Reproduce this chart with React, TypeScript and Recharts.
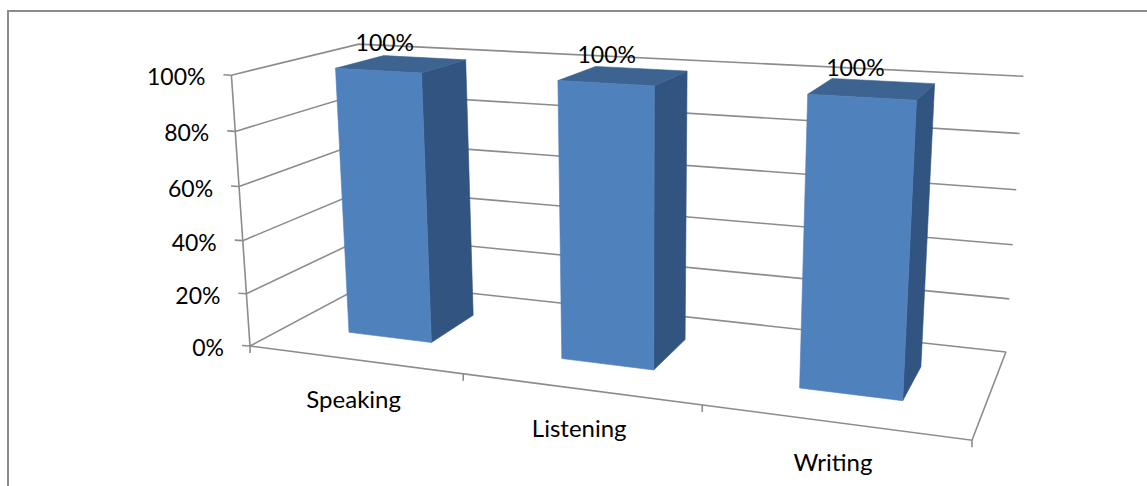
import { BarChart, Bar, XAxis, YAxis, CartesianGrid, LabelList, Customized } from 'recharts';

const categories = ['Speaking', 'Listening', 'Writing'];
const seriesValues = [100, 100, 100];
const valueTicks = [0, 20, 40, 60, 80, 100];

const chartData = categories.map((name, i) => ({ name, value: seriesValues[i] }));

const WIDTH = 1147;
const HEIGHT = 486;
const FONT = 'Lato, sans-serif';
const LINE = '#8c8c8c';

// Depth range of the columns inside the box (0 = front, 1 = back).
const DEPTH_FRONT = 0.3;
const DEPTH_BACK = 0.7;

// Camera matrix: u runs along the categories, v up the values, w into the depth.
function project(u: number, v: number, w: number): [number, number] {
  const X = 250 + 564.8 * u - 29 * v + 173.2 * w;
  const Y = 346 + 23 * u - 274.2 * v - 23.3 * w;
  const Z = 1 - 0.1617 * u - 0.0451 * v + 0.1439 * w;
  return [X / Z, Y / Z];
}

const toPath = (pts: [number, number][], close = false) =>
  'M' + pts.map(([x, y]) => `${x.toFixed(1)},${y.toFixed(1)}`).join('L') + (close ? 'Z' : '');

const toU = (x: number) => x / WIDTH;
const toV = (y: number) => 1 - y / HEIGHT;

// Wall line: runs from the front of the left wall, to the back, to the right.
function GridLine3D(props: any) {
  const v = toV(props.y1);
  return (
    <path
      key={props.key}
      d={toPath([project(0, v, 0), project(0, v, 1), project(1, v, 1)])}
      fill="none"
      stroke={LINE}
      strokeWidth={1.6}
    />
  );
}

// Floor edges, value axis and the category tick marks.
function AxisFrame() {
  const marks = [];
  for (let i = 0; i <= categories.length; i++) {
    const [x, y] = project(i / categories.length, 0, 0);
    marks.push(<path key={i} d={`M${x},${y}L${x},${y + 7}`} stroke={LINE} strokeWidth={1.6} />);
  }
  return (
    <g fill="none" stroke={LINE} strokeWidth={1.6}>
      <path d={toPath([project(0, 1, 0), project(0, 0, 0), project(1, 0, 0), project(1, 0, 1)])} />
      {marks}
    </g>
  );
}

function ValueTick(props: any) {
  const [x, y] = project(0, toV(props.y), 0);
  return (
    <g>
      <path d={`M${x - 8},${y - 0.5}L${x},${y}`} stroke={LINE} strokeWidth={1.6} fill="none" />
      <text x={x - 26} y={y + 1} textAnchor="end" dominantBaseline="central" fontFamily={FONT} fontSize={23} fill="#000">
        {props.payload.value}%
      </text>
    </g>
  );
}

function CategoryTick(props: any) {
  const [x, y] = project(toU(props.x), 0, 0);
  return (
    <text x={x} y={y + 39} textAnchor="middle" dominantBaseline="central" fontFamily={FONT} fontSize={24} fill="#000">
      {props.payload.value}
    </text>
  );
}

// Column drawn as three faces, back to front.
function Column3D(props: any) {
  const { x, y, width, height } = props;
  const u0 = toU(x);
  const u1 = toU(x + width);
  const v0 = toV(y + height);
  const v1 = toV(y);
  const f = DEPTH_FRONT;
  const b = DEPTH_BACK;
  return (
    <g strokeWidth={0.6} strokeLinejoin="round">
      <path d={toPath([project(u1, v0, f), project(u1, v0, b), project(u1, v1, b), project(u1, v1, f)], true)} fill="#325480" stroke="#325480" />
      <path d={toPath([project(u0, v1, f), project(u1, v1, f), project(u1, v1, b), project(u0, v1, b)], true)} fill="#3d6491" stroke="#3d6491" />
      <path d={toPath([project(u0, v0, f), project(u1, v0, f), project(u1, v1, f), project(u0, v1, f)], true)} fill="#4f81bd" stroke="#4f81bd" />
    </g>
  );
}

function ValueLabel(props: any) {
  const { x, y, width, value } = props;
  const [px, py] = project(toU(x + width / 2), toV(y), 0.5);
  return (
    <text x={px - 17} y={py - 22} textAnchor="middle" dominantBaseline="central" fontFamily={FONT} fontSize={23} fill="#000">
      {value}%
    </text>
  );
}

export default function App() {
  return (
    <div style={{ position: 'absolute', left: 0, top: 0, width: WIDTH, height: HEIGHT, background: '#fff', overflow: 'hidden' }}>
      <div style={{ position: 'absolute', left: 7, top: 10, right: 0, bottom: 0, borderTop: `2px solid ${LINE}`, borderLeft: `2px solid ${LINE}` }} />
      <div style={{ position: 'absolute', left: 0, top: 0 }}>
        {/* the axes get one pixel so they render; the negative margins keep the plot on the full area */}
        <BarChart
          width={WIDTH}
          height={HEIGHT}
          data={chartData}
          margin={{ top: 0, right: 0, bottom: -1, left: -1 }}
          barCategoryGap="30%"
          style={{ overflow: 'visible' }}
        >
          <CartesianGrid vertical={false} horizontal={GridLine3D} />
          <Customized component={AxisFrame} />
          <XAxis dataKey="name" height={1} axisLine={false} tickLine={false} interval={0} tick={CategoryTick} />
          <YAxis width={1} domain={[0, 100]} ticks={valueTicks} axisLine={false} tickLine={false} interval={0} tick={ValueTick} />
          <Bar dataKey="value" isAnimationActive={false} shape={Column3D}>
            <LabelList dataKey="value" content={ValueLabel} />
          </Bar>
        </BarChart>
      </div>
    </div>
  );
}
